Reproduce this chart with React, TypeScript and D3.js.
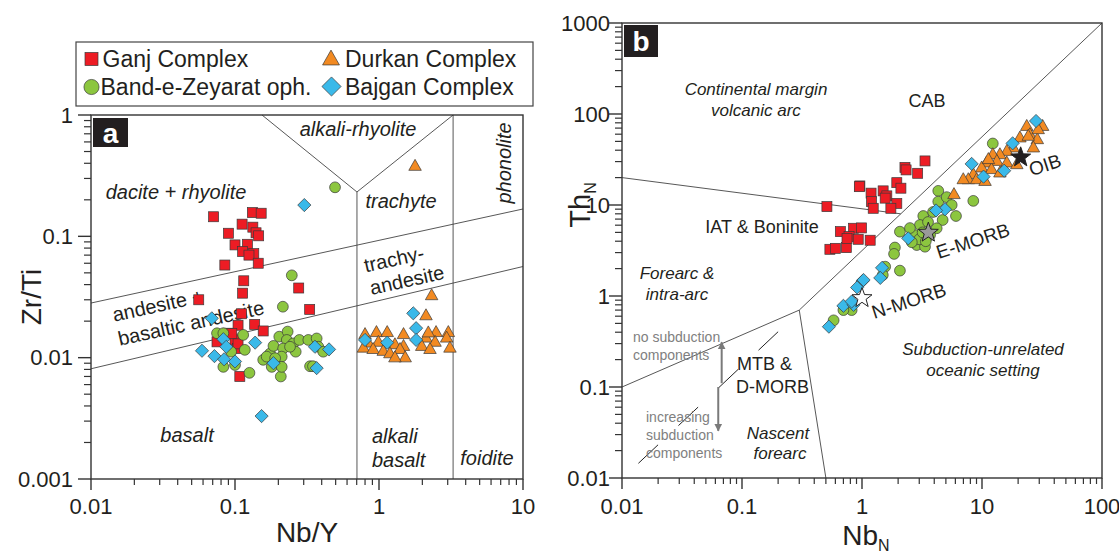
import React from 'react';
import * as d3 from 'd3';

type Pt = [number, number];

// ---------- Panel a : Nb/Y vs Zr/Ti ----------
const ganjA: Pt[] = [
  [0.071, 0.145], [0.132, 0.157], [0.152, 0.155], [0.112, 0.126], [0.133, 0.119], [0.090, 0.106],
  [0.140, 0.107], [0.146, 0.101], [0.100, 0.085], [0.122, 0.086], [0.113, 0.075], [0.135, 0.072],
  [0.125, 0.070], [0.085, 0.058], [0.145, 0.060], [0.115, 0.043], [0.277, 0.0375], [0.113, 0.034],
  [0.056, 0.030], [0.330, 0.025], [0.111, 0.023], [0.105, 0.0185], [0.137, 0.0188], [0.157, 0.0166],
  [0.089, 0.0159], [0.075, 0.0135], [0.100, 0.0140], [0.104, 0.0119], [0.108, 0.0070], [0.095, 0.0158],
  [0.105, 0.0130],
];
const bandA: Pt[] = [
  [0.495, 0.2535], [0.248, 0.0477], [0.215, 0.0263], [0.075, 0.0159], [0.083, 0.0159], [0.114, 0.0154],
  [0.094, 0.0112], [0.117, 0.0116], [0.083, 0.0084], [0.100, 0.0087], [0.126, 0.0075], [0.157, 0.0096],
  [0.175, 0.0108], [0.185, 0.0125], [0.203, 0.0149], [0.232, 0.0164], [0.229, 0.0140], [0.254, 0.0131],
  [0.280, 0.0140], [0.216, 0.0119], [0.211, 0.0102], [0.264, 0.0112], [0.323, 0.0140], [0.369, 0.0144],
  [0.379, 0.0123], [0.410, 0.0112], [0.332, 0.0085], [0.208, 0.0070], [0.180, 0.0084], [0.211, 0.0084],
  [0.166, 0.0102], [0.190, 0.0099], [0.241, 0.0123], [0.348, 0.0085],
];
const durkanA: Pt[] = [
  [1.78, 0.375], [2.32, 0.0322], [2.12, 0.0220], [0.80, 0.0154], [0.96, 0.0160], [1.14, 0.0160],
  [1.48, 0.0154], [2.49, 0.0160], [3.03, 0.0160], [0.84, 0.0131], [0.99, 0.0133], [1.29, 0.0127],
  [1.48, 0.0123], [2.12, 0.0144], [2.45, 0.0133], [2.95, 0.0144], [3.11, 0.0119], [0.78, 0.0119],
  [0.91, 0.0116], [1.07, 0.0112], [1.19, 0.0107], [1.40, 0.0116], [1.52, 0.0099], [1.29, 0.0099],
  [1.98, 0.0123], [2.26, 0.0116], [2.20, 0.0159],
];
const bajganA: Pt[] = [
  [0.303, 0.181], [0.069, 0.0211], [0.059, 0.0114], [0.072, 0.0103], [0.083, 0.0142], [0.087, 0.0123],
  [0.084, 0.0097], [0.100, 0.0093], [0.138, 0.0133], [0.185, 0.0090], [0.359, 0.0123], [0.450, 0.0117],
  [0.369, 0.0082], [0.153, 0.0033], [1.73, 0.0232], [1.81, 0.0175], [1.81, 0.0140], [0.80, 0.0140],
  [1.14, 0.0133],
];

// ---------- Panel b : NbN vs ThN ----------
const ganjB: Pt[] = [
  [3.35, 30.5], [2.28, 25.9], [2.33, 24.3], [2.91, 22.3], [0.96, 16.2], [1.19, 13.5], [1.50, 14.3],
  [1.95, 17.6], [2.11, 15.3], [1.61, 12.6], [1.20, 10.9], [1.95, 10.4], [1.74, 9.2], [1.24, 9.2],
  [0.51, 9.6], [0.66, 5.1], [0.85, 5.55], [0.99, 5.6], [0.78, 4.5], [0.93, 4.2], [1.17, 4.1],
  [0.74, 3.4], [0.54, 3.26], [0.60, 3.34], [1.56, 11.9], [0.95, 15.9], [0.75, 4.3],
];
const bandB: Pt[] = [
  [12.3, 47.4], [8.46, 11.1], [4.32, 14.3], [4.32, 10.9], [5.08, 12.2], [5.59, 10.0], [6.07, 7.57],
  [4.70, 6.84], [3.24, 7.57], [3.04, 6.03], [2.73, 4.68], [3.15, 3.94], [2.86, 3.63], [3.35, 3.48],
  [2.07, 5.09], [1.88, 3.41], [1.85, 2.90], [2.07, 1.90], [1.56, 2.10], [4.19, 5.55], [0.82, 0.70],
  [0.58, 0.54], [1.49, 1.70], [0.70, 0.70], [3.69, 4.68], [3.55, 6.5], [2.51, 5.58], [3.91, 8.38],
  [3.0, 4.2], [3.4, 4.0], [2.6, 3.9], [3.2, 5.0],
];
const durkanB: Pt[] = [
  [32.0, 72.4], [23.6, 72.4], [25.1, 58.7], [20.7, 54.1], [28.9, 51.8], [26.8, 42.0], [18.2, 42.0],
  [16.1, 38.5], [14.1, 35.4], [12.3, 35.4], [13.3, 29.9], [10.9, 28.7], [16.1, 28.7], [9.94, 25.3],
  [12.0, 24.3], [14.1, 22.3], [8.46, 21.4], [7.69, 18.8], [9.03, 18.8], [10.6, 18.0], [5.84, 12.9],
  [19.5, 27.5], [24.3, 56.4], [29.4, 66.7], [11.3, 31.3], [6.98, 18.8],
];
const bajganB: Pt[] = [
  [28.2, 83.8], [18.0, 47.6], [8.2, 28.3], [15.3, 23.8], [10.3, 20.5], [4.92, 8.97], [4.14, 8.71],
  [2.43, 4.30], [1.47, 2.04], [1.42, 1.58], [1.01, 1.46], [0.91, 1.24], [0.70, 0.78], [0.85, 0.80],
  [0.53, 0.46], [0.82, 0.87], [1.03, 1.50],
];
const refStars: { name: string; p: Pt; fill: string }[] = [
  { name: 'N-MORB', p: [1.0, 0.95], fill: '#ffffff' },
  { name: 'E-MORB', p: [3.57, 4.97], fill: '#9a9a9a' },
  { name: 'OIB', p: [21, 33.4], fill: '#231f20' },
];

// ticks
const xTicksA = [0.01, 0.1, 1, 10];
const xTickLabelsA = ['0.01', '0.1', '1', '10'];
const yTicksA = [0.001, 0.01, 0.1, 1];
const yTickLabelsA = ['0.001', '0.01', '0.1', '1'];
const xTicksB = [0.01, 0.1, 1, 10, 100];
const xTickLabelsB = ['0.01', '0.1', '1', '10', '100'];
const yTicksB = [0.01, 0.1, 1, 10, 100, 1000];
const yTickLabelsB = ['0.01', '0.1', '1', '10', '100', '1000'];

// field boundaries
const boundA: Pt[][] = [
  [[0.01, 0.0282], [10, 0.168]],
  [[0.01, 0.0081], [10, 0.0564]],
  [[0.154, 1], [0.703, 0.232], [3.27, 1]],
  [[0.703, 0.232], [0.703, 0.001]],
  [[3.27, 1], [3.27, 0.001]],
];
const boundB: Pt[][] = [
  [[0.01, 0.1], [0.3, 0.7], [100, 1000]],
  [[0.3, 0.7], [0.5, 0.01]],
  [[0.01, 20], [2.1, 8.0]],
];
const dashB: Pt[] = [[0.0137, 0.0145], [0.2, 0.405]];
const arrowUpB: Pt[] = [[0.0677, 0.11], [0.0677, 0.31]];
const arrowDownB: Pt[] = [[0.0634, 0.1], [0.0634, 0.033]];

const FONT = '"Liberation Sans", Arial, Helvetica, sans-serif';
const C_RED = '#ED1C24';
const C_GREEN = '#8CC63F';
const C_ORANGE = '#F28A22';
const C_BLUE = '#3AB9E9';
const STROKE = '#3a3a3a';
const INK = '#231f20';

const xA = d3.scaleLog().domain([0.01, 10]).range([91, 523]);
const yA = d3.scaleLog().domain([0.001, 1]).range([479, 115]);
const xB = d3.scaleLog().domain([0.01, 100]).range([622, 1102]);
const yB = d3.scaleLog().domain([0.01, 1000]).range([478, 23]);

type Shape = 'square' | 'circle' | 'triangle' | 'diamond';

function Marker({ shape, cx, cy, color, s = 1 }: { shape: Shape; cx: number; cy: number; color: string; s?: number }) {
  const sw = 0.7;
  if (shape === 'square') {
    const a = 10 * s;
    return <rect x={cx - a / 2} y={cy - a / 2} width={a} height={a} fill={color} stroke={STROKE} strokeWidth={sw} />;
  }
  if (shape === 'circle') {
    return <circle cx={cx} cy={cy} r={5.4 * s} fill={color} stroke={STROKE} strokeWidth={sw} />;
  }
  if (shape === 'triangle') {
    const w = 12.5 * s, h = 11 * s;
    const d = `M${cx},${cy - (h * 2) / 3}L${cx + w / 2},${cy + h / 3}L${cx - w / 2},${cy + h / 3}Z`;
    return <path d={d} fill={color} stroke={STROKE} strokeWidth={sw} />;
  }
  const h = 6.6 * s;
  const d = `M${cx},${cy - h}L${cx + h},${cy}L${cx},${cy + h}L${cx - h},${cy}Z`;
  return <path d={d} fill={color} stroke={STROKE} strokeWidth={sw} />;
}

function starPath(cx: number, cy: number, R: number, r: number) {
  const pts: string[] = [];
  for (let i = 0; i < 10; i++) {
    const rad = i % 2 === 0 ? R : r;
    const ang = -Math.PI / 2 + (i * Math.PI) / 5;
    pts.push(`${cx + rad * Math.cos(ang)},${cy + rad * Math.sin(ang)}`);
  }
  return 'M' + pts.join('L') + 'Z';
}

function minorTicks(domain: number[]) {
  const out: number[] = [];
  const lo = Math.round(Math.log10(domain[0]));
  const hi = Math.round(Math.log10(domain[1]));
  for (let e = lo; e < hi; e++) {
    for (let k = 2; k <= 9; k++) out.push(k * Math.pow(10, e));
  }
  return out;
}

function Series({ data, x, y, shape, color }: { data: Pt[]; x: any; y: any; shape: Shape; color: string }) {
  return (
    <g>
      {data.map((d, i) => (
        <Marker key={i} shape={shape} cx={x(d[0])} cy={y(d[1])} color={color} />
      ))}
    </g>
  );
}

function Axes({ x, y, xTicks, xLabels, yTicks, yLabels, yLabelEnd }: any) {
  const [x0, x1] = x.range();
  const [y0, y1] = y.range();
  const xMinor = minorTicks(x.domain());
  const yMinor = minorTicks(y.domain());
  return (
    <g>
      <rect x={x0} y={y1} width={x1 - x0} height={y0 - y1} fill="none" stroke="#333" strokeWidth={1.4} />
      {xMinor.map((t: number, i: number) => (
        <line key={'xm' + i} x1={x(t)} x2={x(t)} y1={y0} y2={y0 + 6} stroke="#333" strokeWidth={1.2} />
      ))}
      {xTicks.map((t: number, i: number) => (
        <g key={'xM' + i}>
          <line x1={x(t)} x2={x(t)} y1={y0} y2={y0 + 11} stroke="#333" strokeWidth={1.4} />
          <text x={x(t)} y={514} textAnchor="middle" fontSize={22} fontFamily={FONT} fill={INK}>
            {xLabels[i]}
          </text>
        </g>
      ))}
      {yMinor.map((t: number, i: number) => (
        <line key={'ym' + i} x1={x0 - 7} x2={x0} y1={y(t)} y2={y(t)} stroke="#333" strokeWidth={1.2} />
      ))}
      {yTicks.map((t: number, i: number) => (
        <g key={'yM' + i}>
          <line x1={x0 - 13} x2={x0} y1={y(t)} y2={y(t)} stroke="#333" strokeWidth={1.4} />
          <text x={yLabelEnd} y={y(t)} textAnchor="end" dominantBaseline="central" fontSize={22} fontFamily={FONT} fill={INK}>
            {yLabels[i]}
          </text>
        </g>
      ))}
    </g>
  );
}

function Label({ x, y, text, size = 19, italic = false, rotate = 0, anchor = 'middle', fill = INK }: any) {
  return (
    <text
      x={x}
      y={y}
      textAnchor={anchor}
      dominantBaseline="central"
      fontSize={size}
      fontFamily={FONT}
      fontStyle={italic ? 'italic' : 'normal'}
      fill={fill}
      transform={rotate ? `rotate(${rotate},${x},${y})` : undefined}
    >
      {text}
    </text>
  );
}

export default function App() {
  const lineA = d3.line<Pt>().x((d) => xA(d[0])).y((d) => yA(d[1]));
  const lineB = d3.line<Pt>().x((d) => xB(d[0])).y((d) => yB(d[1]));
  const rot = -12.4;
  return (
    <svg width={1119} height={554} style={{ position: 'absolute', left: 0, top: 0, background: '#fff' }}>
      <defs>
        <marker id="arrowG" viewBox="0 0 10 10" refX="9" refY="5" markerWidth="4" markerHeight="5" orient="auto" markerUnits="strokeWidth">
          <path d="M0,0L10,5L0,10Z" fill="#7a7a7a" />
        </marker>
      </defs>
      <rect x={0} y={0} width={1119} height={554} fill="#fff" />

      {/* ================= Panel a ================= */}
      <g>
        {boundA.map((b, i) => (
          <path key={i} d={lineA(b) || ''} fill="none" stroke="#444" strokeWidth={0.9} />
        ))}
        <Label x={358} y={129} text="alkali-rhyolite" size={20} italic />
        <Label x={504} y={163} text="phonolite" size={20} italic rotate={-90} />
        <Label x={176} y={192} text="dacite + rhyolite" size={20} italic />
        <Label x={401} y={201} text="trachyte" size={20} italic />
        <Label x={394} y={259} text="trachy-" size={20} rotate={rot} />
        <Label x={407} y={280} text="andesite" size={20} rotate={rot} />
        <Label x={158} y={305} text="andesite +" size={20} rotate={rot} />
        <Label x={191} y={323} text="basaltic andesite" size={20} rotate={rot} />
        <Label x={187} y={435} text="basalt" size={20} italic />
        <Label x={372} y={436} text="alkali" size={20} italic anchor="start" />
        <Label x={372} y={460} text="basalt" size={20} italic anchor="start" />
        <Label x={487} y={458} text="foidite" size={20} italic />

        <Series data={ganjA} x={xA} y={yA} shape="square" color={C_RED} />
        <Series data={bandA} x={xA} y={yA} shape="circle" color={C_GREEN} />
        <Series data={durkanA} x={xA} y={yA} shape="triangle" color={C_ORANGE} />
        <Series data={bajganA} x={xA} y={yA} shape="diamond" color={C_BLUE} />

        <Axes x={xA} y={yA} xTicks={xTicksA} xLabels={xTickLabelsA} yTicks={yTicksA} yLabels={yTickLabelsA} yLabelEnd={73} />

        <rect x={93} y={118} width={35} height={29} fill={INK} />
        <text x={110.5} y={133} textAnchor="middle" dominantBaseline="central" fontSize={28} fontWeight="bold" fontFamily={FONT} fill="#fff">a</text>

        <text x={307} y={542} textAnchor="middle" fontSize={28} fontFamily={FONT} fill={INK}>Nb/Y</text>
        <text x={0} y={0} transform="translate(41,297) rotate(-90)" textAnchor="middle" fontSize={28} fontFamily={FONT} fill={INK}>Zr/Ti</text>
      </g>

      {/* ================= Legend ================= */}
      <g>
        <rect x={76} y={42} width={457} height={64} fill="#fff" stroke="#444" strokeWidth={1.2} />
        <Marker shape="square" cx={91.5} cy={59} color={C_RED} s={1.3} />
        <text x={102.5} y={59} dominantBaseline="central" fontSize={23} fontFamily={FONT} fill={INK}>Ganj Complex</text>
        <Marker shape="triangle" cx={331} cy={60} color={C_ORANGE} s={1.35} />
        <text x={345} y={59} dominantBaseline="central" fontSize={23} fontFamily={FONT} fill={INK}>Durkan Complex</text>
        <Marker shape="circle" cx={91.5} cy={87} color={C_GREEN} s={1.4} />
        <text x={100.5} y={87} dominantBaseline="central" fontSize={23} fontFamily={FONT} fill={INK}>Band-e-Zeyarat oph.</text>
        <Marker shape="diamond" cx={331.5} cy={86.5} color={C_BLUE} s={1.45} />
        <text x={345} y={87} dominantBaseline="central" fontSize={23} fontFamily={FONT} fill={INK}>Bajgan Complex</text>
      </g>

      {/* ================= Panel b ================= */}
      <g>
        {boundB.map((b, i) => (
          <path key={i} d={lineB(b) || ''} fill="none" stroke="#444" strokeWidth={0.9} />
        ))}
        <path d={lineB(dashB) || ''} fill="none" stroke="#222" strokeWidth={1} strokeDasharray="27 28" />
        <path d={lineB(arrowUpB) || ''} fill="none" stroke="#7a7a7a" strokeWidth={2} markerEnd="url(#arrowG)" />
        <path d={lineB(arrowDownB) || ''} fill="none" stroke="#7a7a7a" strokeWidth={2} markerEnd="url(#arrowG)" />

        <Label x={756} y={89} text="Continental margin" size={17} italic />
        <Label x={756} y={110} text="volcanic arc" size={17} italic />
        <Label x={927} y={101} text="CAB" size={18} />
        <Label x={762} y={227} text="IAT & Boninite" size={18} />
        <Label x={677} y={273} text="Forearc &" size={17} italic />
        <Label x={677} y={294} text="intra-arc" size={17} italic />
        <Label x={633} y={337} text="no subduction" size={14} anchor="start" fill="#808080" />
        <Label x={633} y={355} text="components" size={14} anchor="start" fill="#808080" />
        <Label x={737} y={364} text="MTB &" size={18} anchor="start" />
        <Label x={736} y={387} text="D-MORB" size={18} anchor="start" />
        <Label x={646} y={417} text="increasing" size={14} anchor="start" fill="#808080" />
        <Label x={646} y={435} text="subduction" size={14} anchor="start" fill="#808080" />
        <Label x={646} y={453} text="components" size={14} anchor="start" fill="#808080" />
        <Label x={778} y={433} text="Nascent" size={17} italic />
        <Label x={780} y={453} text="forearc" size={17} italic />
        <Label x={983} y={349} text="Subduction-unrelated" size={17} italic />
        <Label x={983} y={370} text="oceanic setting" size={17} italic />

        <Series data={ganjB} x={xB} y={yB} shape="square" color={C_RED} />
        <Series data={bandB} x={xB} y={yB} shape="circle" color={C_GREEN} />
        <Series data={durkanB} x={xB} y={yB} shape="triangle" color={C_ORANGE} />
        <Series data={bajganB} x={xB} y={yB} shape="diamond" color={C_BLUE} />

        {refStars.map((s, i) => (
          <path key={i} d={starPath(xB(s.p[0]), yB(s.p[1]), 10.5, 4.3)} fill={s.fill} stroke="#222" strokeWidth={1} />
        ))}
        <Label x={1045} y={165} text="OIB" size={19} rotate={-18} />
        <Label x={973} y={241} text="E-MORB" size={19} rotate={-18} />
        <Label x={909} y={301} text="N-MORB" size={19} rotate={-18} />

        <Axes x={xB} y={yB} xTicks={xTicksB} xLabels={xTickLabelsB} yTicks={yTicksB} yLabels={yTickLabelsB} yLabelEnd={610} />

        <rect x={624} y={25} width={34} height={32} fill={INK} />
        <text x={641} y={41} textAnchor="middle" dominantBaseline="central" fontSize={28} fontWeight="bold" fontFamily={FONT} fill="#fff">b</text>

        <text x={866} y={545} textAnchor="middle" fontSize={28} fontFamily={FONT} fill={INK}>
          Nb<tspan fontSize={16} dy={6}>N</tspan>
        </text>
        <text x={0} y={0} transform="translate(590,205) rotate(-90)" textAnchor="middle" fontSize={29} fontFamily={FONT} fill={INK}>
          Th<tspan fontSize={16} dy={6}>N</tspan>
        </text>
      </g>
    </svg>
  );
}
